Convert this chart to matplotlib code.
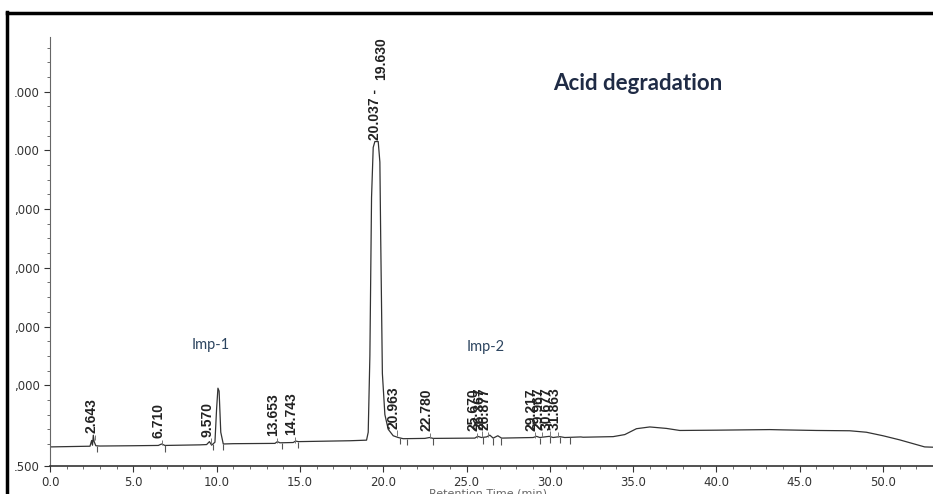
import numpy as np
import matplotlib.pyplot as plt
from matplotlib.lines import Line2D

# chromatogram trace (time in min, detector signal)
time = [0.0, 1.0, 2.0, 2.4, 2.5, 2.55, 2.6, 2.65, 2.75, 3.0, 5.0, 6.5, 6.7, 6.9,
        9.0, 9.4, 9.57, 9.7, 9.9, 10.0, 10.08, 10.15, 10.25, 10.4, 11.0, 13.5,
        13.65, 13.8, 14.6, 14.74, 14.9, 18.0, 19.0, 19.1, 19.2, 19.3, 19.4, 19.5,
        19.7, 19.8, 19.85, 19.95, 20.1, 20.3, 20.6, 20.9, 21.2, 22.5, 22.78, 23.0,
        25.5, 25.67, 25.9, 26.2, 26.4, 26.6, 26.88, 27.1, 29.0, 29.2, 29.4, 29.97,
        30.2, 30.6, 30.9, 31.86, 32.0, 33.8, 34.5, 35.2, 36.0, 37.0, 37.8, 40.0,
        43.2, 44.0, 46.0, 48.0, 49.0, 50.0, 51.0, 52.5, 53.0]
signal = [-50, -45, -40, -38, 60, -20, 150, 40, -30, -35, -30, -25, 0, -25,
          -15, -10, 40, -20, 30, 600, 950, 900, 200, 0, 5, 10,
          40, 20, 25, 50, 40, 55, 65, 200, 1500, 4200, 5050, 5150,
          5150, 4800, 3500, 1200, 500, 250, 140, 110, 90, 95, 110, 95,
          100, 130, 110, 120, 150, 100, 140, 100, 110, 130, 110, 130,
          110, 125, 110, 120, 115, 125, 160, 260, 290, 265, 230, 235,
          245, 240, 230, 225, 200, 140, 70, -50, -55]

peak_labels = ["2.643", "6.710", "9.570", "13.653", "14.743", "20.963", "22.780",
               "25.670", "26.367", "26.877", "29.217", "29.967", "30.677", "31.863"]
label_x = [2.5, 6.5, 9.45, 13.4, 14.5, 20.6, 22.6,
           25.4, 25.75, 26.1, 28.9, 29.35, 29.8, 30.3]
event_marks = [2.8, 6.9, 9.8, 10.4, 13.9, 14.9, 21.0, 21.4, 23.0,
               26.0, 26.6, 27.1, 29.4, 30.0, 30.6, 31.2]

yticks = [-375, 1000, 2000, 3000, 4000, 5000, 6000]
ytick_labels = [".500", ",000", ",000", ",000", ",000", ".000", ".000"]
xticks = [0, 5, 10, 15, 20, 25, 30, 35, 40, 45, 50]

fig = plt.figure(figsize=(9.33, 4.94), dpi=100)
ax = fig.add_axes([50/933, 1-466/494, 1-50/933, (466-37)/494])

ax.plot(time, signal, color="#333333", lw=0.9)

# integration marks under / over the baseline
base = np.interp(event_marks, time, signal)
ax.vlines(event_marks, base - 110, base, color="#555555", lw=0.8)
lbl_base = np.interp(label_x, time, signal)
for x, b, t in zip(label_x, lbl_base, peak_labels):
    ax.vlines(x + 0.2, b, b + 90, color="#777777", lw=0.7)
    ax.text(x, b + 120, t, rotation=90, ha="center", va="bottom",
            fontsize=10, color="#222222", family="Liberation Sans", fontweight="bold")

ax.text(19.5, 5180, "20.037 -", rotation=90, ha="center", va="bottom",
        fontsize=10, color="#222222", family="Liberation Sans", fontweight="bold")
ax.text(19.9, 6930, "19.630", rotation=90, ha="center", va="top",
        fontsize=10, color="#222222", family="Liberation Sans", fontweight="bold")

ax.set_xlim(0, 53.0)
ax.set_ylim(-375, 6930)
ax.set_xticks(xticks)
ax.set_xticklabels([f"{v:.1f}" for v in xticks])
ax.set_xticks(np.arange(0, 53.1, 1.0), minor=True)
ax.set_yticks(yticks)
ax.set_yticklabels(ytick_labels)
ax.set_yticks(np.arange(0, 6900, 250), minor=True)
ax.tick_params(labelsize=8.5, colors="#333333", length=4, width=0.8)
ax.tick_params(which="minor", length=2, width=0.6, colors="#555555")
for s in ["top", "right"]:
    ax.spines[s].set_visible(False)
ax.spines["left"].set_color("#666666")
ax.spines["bottom"].set_color("#333333")
ax.spines["bottom"].set_linewidth(1.2)

ax.text(30.2, 6130, "Acid degradation", fontsize=16, fontweight="bold",
        color="#1f2b45", family="Lato", va="center")
ax.text(8.5, 1690, "Imp-1", fontsize=10.5, color="#2d4560", family="Lato", va="center")
ax.text(25.0, 1650, "Imp-2", fontsize=10.5, color="#2d4560", family="Lato", va="center")

fig.text(0.46, 0.012, "Retention Time (min)", va="top", fontsize=8, color="#666666")

# frame around the picture
fig.add_artist(Line2D([7/933, 7/933], [0, 1-12/494], color="black", lw=2.5))
fig.add_artist(Line2D([7/933, 1], [1-13/494, 1-13/494], color="black", lw=2.5))

fig.savefig("out.png", dpi=100)
